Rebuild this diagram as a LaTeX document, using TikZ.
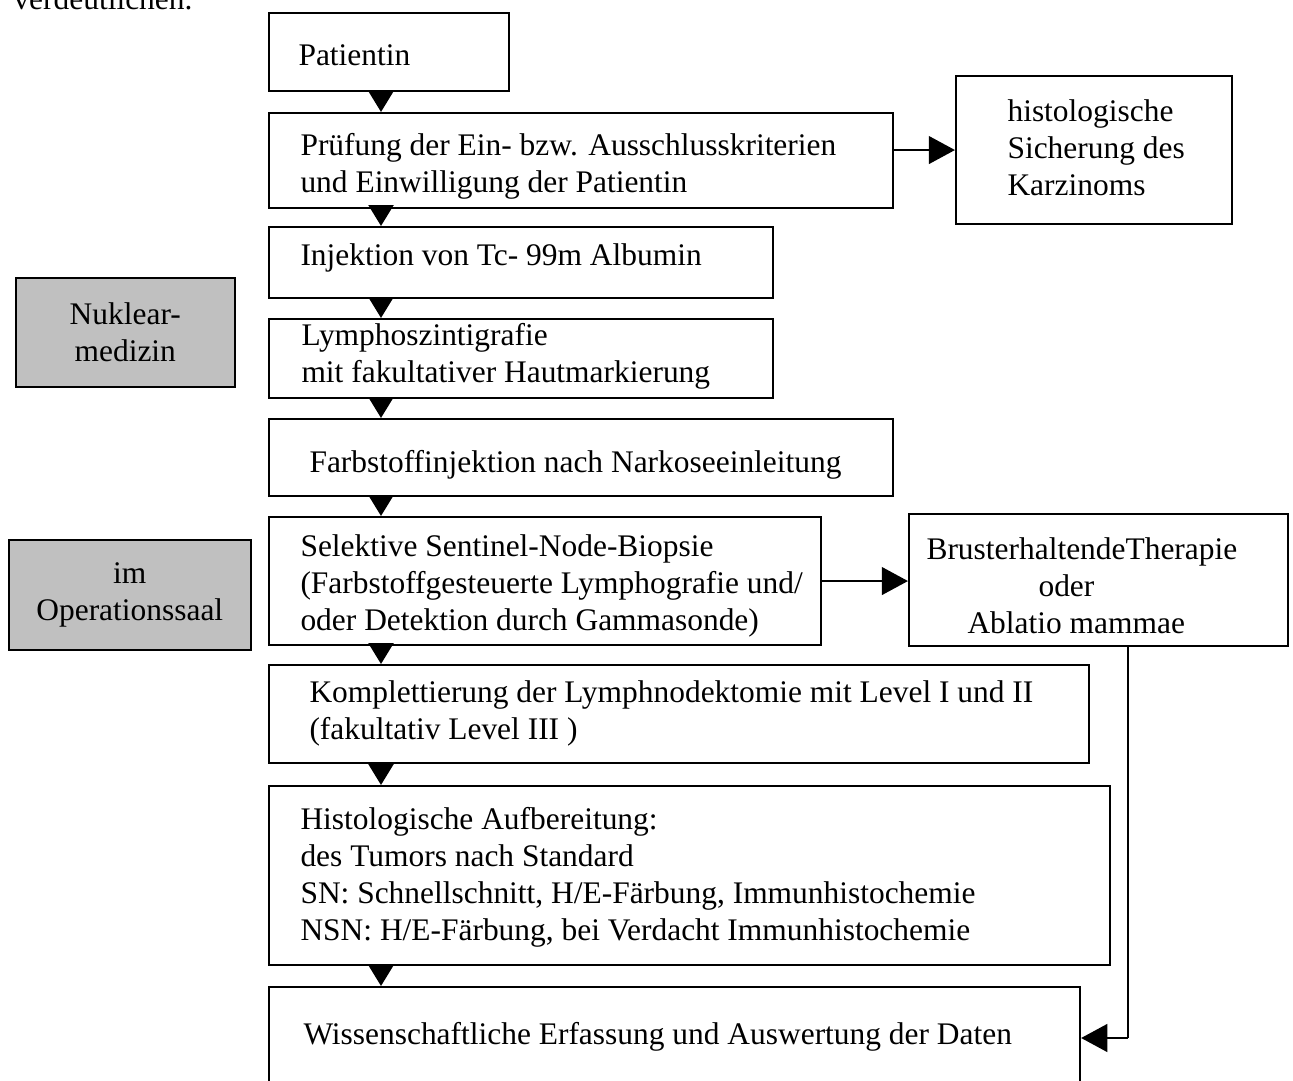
\documentclass[tikz,border=0pt]{standalone}
\usepackage{fontspec}
\setmainfont{Liberation Serif}
\usetikzlibrary{arrows.meta}
\definecolor{sidegray}{HTML}{C0C0C0}
\newdimen\pxu
\pxu=0.3817pt

\begin{document}
\begin{tikzpicture}[x=0.3817pt,y=-0.3817pt,
  font=\fontsize{12pt}{14.1pt}\selectfont,
  flowbox/.style={draw=black,line width=.8pt,anchor=north west,inner sep=0pt},
  sidebox/.style={draw=black,fill=sidegray,line width=.6pt,anchor=north west,
                  align=center,inner sep=0pt},
  boxtext/.style={anchor=west,align=left,inner sep=0pt},
  downarr/.style={line width=1pt,-{Triangle[length=8pt,width=9.5pt]}},
  sidearr/.style={line width=1.1pt,-{Triangle[length=10pt,width=10.5pt]}}]
 \useasboundingbox (0,0) rectangle (1293,1081);
 \clip (0,0) rectangle (1293,1081);
 \node[anchor=base west,inner sep=0pt] (verd) at (13,10) {verdeutlichen.};
 % main column
 \node[flowbox,minimum width=240\pxu,minimum height=78\pxu] (pat) at (268,12) {};
 \node[flowbox,minimum width=624\pxu,minimum height=95\pxu] (pru) at (268,112) {};
 \node[flowbox,minimum width=504\pxu,minimum height=71\pxu] (inj) at (268,226) {};
 \node[flowbox,minimum width=504\pxu,minimum height=79\pxu] (lym) at (268,318) {};
 \node[flowbox,minimum width=624\pxu,minimum height=77\pxu] (farb) at (268,418) {};
 \node[flowbox,minimum width=552\pxu,minimum height=128\pxu] (sel) at (268,516) {};
 \node[flowbox,minimum width=820\pxu,minimum height=98\pxu] (kom) at (268,664) {};
 \node[flowbox,minimum width=841\pxu,minimum height=179\pxu] (histo) at (268,785) {};
 \node[flowbox,minimum width=811\pxu,minimum height=110\pxu] (wis) at (268,986) {};
 % right column
 \node[flowbox,minimum width=276\pxu,minimum height=148\pxu] (sich) at (955,75) {};
 \node[flowbox,minimum width=379\pxu,minimum height=132\pxu] (bru) at (908,513) {};
 % grey side labels
 \node[sidebox,minimum width=219\pxu,minimum height=109\pxu] (nuk) at (15,277)
      {Nuklear-\\medizin};
 \node[sidebox,minimum width=242\pxu,minimum height=110\pxu] (op) at (8,539)
      {im\\Operationssaal};
 % box texts
 \node[boxtext] (pat-t) at (298,55) {Patientin};
 \node[boxtext] (pru-t) at (300,166.5)
      {Prüfung der Ein- bzw. Ausschlusskriterien\\und Einwilligung der Patientin};
 \node[boxtext] (sich-t) at (1007,148) {histologische\\Sicherung des\\Karzinoms};
 \node[boxtext] (inj-t) at (300,258) {Injektion von Tc- 99m Albumin};
 \node[boxtext] (lym-t) at (301,356.5)
      {Lymphoszintigrafie\\mit fakultativer Hautmarkierung};
 \node[boxtext] (farb-t) at (309,465) {Farbstoffinjektion nach Narkoseeinleitung};
 \node[boxtext] (sel-t) at (300,586)
      {Selektive Sentinel-Node-Biopsie\\(Farbstoffgesteuerte Lymphografie und/\\
       oder Detektion durch Gammasonde)};
 \node[boxtext] (bru-t) at (926,586)
      {BrusterhaltendeTherapie\\\hspace*{112\pxu}oder\\\hspace*{41\pxu}Ablatio mammae};
 \node[boxtext] (kom-t) at (309,713.5)
      {Komplettierung der Lymphnodektomie mit Level I und II\\(fakultativ Level III )};
 \node[boxtext] (histo-t) at (300,877)
      {Histologische Aufbereitung:\\des Tumors nach Standard\\
       SN: Schnellschnitt, H/E-Färbung, Immunhistochemie\\
       NSN: H/E-Färbung, bei Verdacht Immunhistochemie};
 \node[boxtext] (wis-t) at (303,1037) {Wissenschaftliche Erfassung und Auswertung der Daten};
 % connectors
 \coordinate (spine) at (381,0);
 \coordinate (turn) at (1128,1038);
 \draw[downarr] (pat.south -| spine) -- (pru.north -| spine);
 \draw[downarr] (pru.south -| spine) -- (inj.north -| spine);
 \draw[downarr] (inj.south -| spine) -- (lym.north -| spine);
 \draw[downarr] (lym.south -| spine) -- (farb.north -| spine);
 \draw[downarr] (farb.south -| spine) -- (sel.north -| spine);
 \draw[downarr] (sel.south -| spine) -- (kom.north -| spine);
 \draw[downarr] (kom.south -| spine) -- (histo.north -| spine);
 \draw[downarr] (histo.south -| spine) -- (wis.north -| spine);
 \draw[sidearr] (pru.east |- sich.west) -- (sich.west);
 \draw[sidearr] (sel.east) -- (sel.east -| bru.west);
 \draw[line width=.45pt] (bru.south -| turn) -- (turn);
 \draw[sidearr] (turn) -- (turn -| wis.east);
\end{tikzpicture}
\end{document}
